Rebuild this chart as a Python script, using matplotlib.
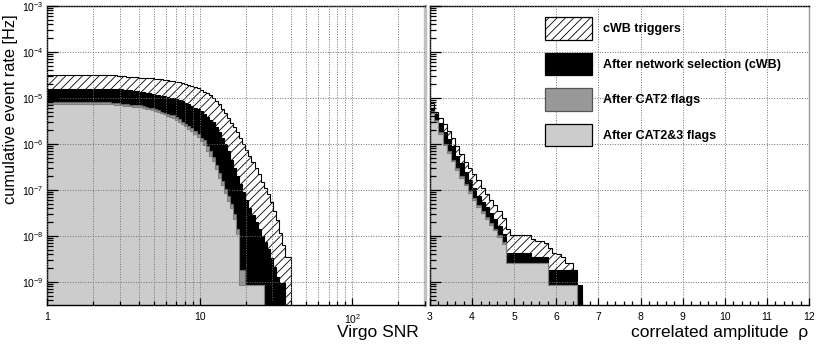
import numpy as np
import matplotlib
matplotlib.use("Agg")
import matplotlib.pyplot as plt
from matplotlib.patches import Patch
from matplotlib.ticker import FixedLocator, FuncFormatter, MultipleLocator, LogLocator, NullFormatter

plt.rcParams['font.family'] = ['Liberation Sans', 'DejaVu Sans']
plt.rcParams['hatch.linewidth'] = 0.6
plt.rcParams['mathtext.default'] = 'regular'

# ---------------- data ----------------
# left panel: log-spaced SNR bins, 1 .. 10^1.6 (50 bins per decade)
snr_edges = np.logspace(0, 1.6, 81)

snr_cwb = ([3.09e-5] * 23 +
           [3.02e-5, 3.02e-5, 2.95e-5, 2.92e-5, 2.88e-5, 2.85e-5, 2.82e-5, 2.79e-5, 2.75e-5, 2.72e-5,
            2.69e-5, 2.66e-5, 2.63e-5, 2.60e-5, 2.57e-5, 2.51e-5, 2.45e-5, 2.40e-5, 2.32e-5, 2.26e-5,
            2.19e-5, 2.11e-5, 2.00e-5, 1.91e-5, 1.80e-5, 1.70e-5, 1.62e-5, 1.51e-5, 1.38e-5, 1.26e-5,
            1.15e-5, 1.02e-5, 8.71e-6, 7.41e-6, 5.89e-6, 4.68e-6, 3.72e-6, 2.88e-6, 2.29e-6, 1.78e-6,
            1.35e-6, 1.02e-6, 7.59e-7, 5.50e-7, 3.98e-7, 2.95e-7, 2.19e-7, 1.48e-7, 1.12e-7, 8.13e-8,
            5.37e-8, 3.55e-8, 2.24e-8, 1.17e-8, 6.31e-9, 3.55e-9, 3.55e-9])

snr_net = ([1.58e-5] * 25 +
           [1.53e-5, 1.50e-5, 1.46e-5, 1.43e-5, 1.39e-5, 1.36e-5, 1.33e-5, 1.30e-5, 1.27e-5, 1.23e-5,
            1.19e-5, 1.15e-5, 1.11e-5, 1.08e-5, 1.04e-5, 1.01e-5, 9.77e-6, 9.46e-6, 9.14e-6, 8.49e-6,
            7.85e-6, 7.24e-6, 6.70e-6, 6.19e-6, 5.71e-6, 5.13e-6, 4.47e-6, 3.89e-6, 3.39e-6, 2.95e-6,
            2.34e-6, 1.86e-6, 1.38e-6, 1.02e-6, 6.92e-7, 4.57e-7, 3.02e-7, 2.00e-7, 1.32e-7, 8.91e-8,
            6.03e-8, 4.07e-8, 2.88e-8, 2.04e-8, 1.41e-8, 1.02e-8, 7.41e-9, 5.13e-9, 3.39e-9, 2.14e-9,
            1.29e-9, 9.33e-10, 9.33e-10, 0, 0])

snr_cat2 = ([8.32e-6] * 20 +
            [8.15e-6, 7.98e-6, 7.82e-6, 7.66e-6, 7.53e-6, 7.43e-6, 7.31e-6, 7.21e-6, 7.11e-6, 7.01e-6,
             6.92e-6, 6.67e-6, 6.43e-6, 6.19e-6, 5.97e-6, 5.68e-6, 5.37e-6, 5.07e-6, 4.80e-6, 4.53e-6,
             4.29e-6, 4.22e-6, 3.80e-6, 3.42e-6, 3.08e-6, 2.77e-6, 2.49e-6, 2.19e-6, 1.88e-6, 1.63e-6,
             1.35e-6, 1.20e-6, 8.91e-7, 6.92e-7, 5.25e-7, 3.55e-7, 2.34e-7, 1.58e-7, 1.07e-7, 7.41e-8,
             5.01e-8, 3.02e-8, 1.41e-8, 1.82e-9, 1.82e-9] +
            [8.51e-10] * 6 + [0] * 9)

snr_cat23 = ([7.59e-6] * 20 +
             [7.43e-6, 7.28e-6, 7.13e-6, 6.98e-6, 6.87e-6, 6.78e-6, 6.67e-6, 6.58e-6, 6.49e-6, 6.40e-6,
              6.31e-6, 6.08e-6, 5.86e-6, 5.65e-6, 5.45e-6, 5.18e-6, 4.90e-6, 4.62e-6, 4.38e-6, 4.13e-6,
              3.91e-6, 3.67e-6, 3.31e-6, 2.98e-6, 2.68e-6, 2.41e-6, 2.17e-6, 1.91e-6, 1.64e-6, 1.42e-6,
              1.17e-6, 9.55e-7, 7.08e-7, 5.50e-7, 4.17e-7, 2.82e-7, 1.86e-7, 1.26e-7, 8.51e-8, 5.89e-8,
              3.98e-8, 2.40e-8, 1.12e-8] +
             [8.51e-10] * 8 + [0] * 9)

# right panel: correlated amplitude bins of 0.1, 3.0 .. 7.0
rho_edges = np.round(np.arange(3.0, 7.01, 0.1), 2)

rho_cwb = [7.94e-6, 5.01e-6, 3.72e-6, 2.69e-6, 1.91e-6, 1.32e-6, 8.91e-7, 6.03e-7, 4.07e-7, 2.95e-7,
           2.19e-7, 1.62e-7, 1.12e-7, 8.13e-8, 6.17e-8, 4.68e-8, 3.55e-8, 2.51e-8, 1.41e-8, 1.05e-8,
           1.05e-8, 1.05e-8, 1.05e-8, 1.05e-8, 8.71e-9, 7.94e-9, 7.94e-9, 7.08e-9, 5.37e-9, 4.37e-9,
           3.98e-9, 3.55e-9, 2.63e-9, 2.63e-9, 0, 0, 0, 0, 0, 0]

rho_net = ([6.03e-6, 4.47e-6, 2.82e-6, 1.78e-6, 1.26e-6, 8.91e-7, 5.62e-7, 3.80e-7, 2.51e-7, 1.66e-7,
            1.12e-7, 7.59e-8, 5.62e-8, 4.17e-8, 3.16e-8, 2.40e-8, 1.66e-8, 1.12e-8] +
           [4.37e-9] * 6 + [3.55e-9] * 4 + [1.78e-9] * 7 + [8.51e-10] + [0] * 4)

rho_cat2 = ([5.25e-6, 3.31e-6, 1.82e-6, 1.02e-6, 6.92e-7, 4.57e-7, 3.02e-7, 2.04e-7, 1.38e-7, 9.55e-8,
             6.76e-8, 4.79e-8, 3.47e-8, 2.57e-8, 1.91e-8, 1.45e-8, 1.05e-8, 7.41e-9] +
            [2.63e-9] * 10 + [8.51e-10] * 7 + [0] * 5)

rho_cat23 = ([4.79e-6, 3.02e-6, 1.66e-6, 9.33e-7, 6.31e-7, 4.17e-7, 2.75e-7, 1.86e-7, 1.26e-7, 8.71e-8,
              6.17e-8, 4.37e-8, 3.16e-8, 2.34e-8, 1.74e-8, 1.32e-8, 9.55e-9, 6.76e-9] +
             [2.63e-9] * 10 + [8.51e-10] * 7 + [0] * 5)

labels = ["cWB triggers", "After network selection (cWB)", "After CAT2 flags", "After CAT2&3 flags"]

# ---------------- style ----------------
LIGHT = '#cccccc'
DARK = '#999999'
FLOOR = 1e-12
YLIM = (10 ** -9.5, 1e-3)

fig = plt.figure(figsize=(8.18, 3.45), dpi=100)
W, H = 818.0, 345.0
ax1 = fig.add_axes([47 / W, 40 / H, 378 / W, 299 / H])
ax2 = fig.add_axes([430 / W, 40 / H, 379 / W, 299 / H])


def draw(ax, edges, cwb, net, cat2, cat23):
    def v(a):
        a = np.asarray(a, dtype=float)
        return np.where(a > 0, a, FLOOR)
    ax.stairs(v(cwb), edges, baseline=FLOOR, fill=True, facecolor='white',
              edgecolor='black', hatch='////', linewidth=0.8, zorder=1)
    ax.stairs(v(net), edges, baseline=FLOOR, fill=True, facecolor='black',
              edgecolor='black', linewidth=0.8, zorder=1.1)
    ax.stairs(v(cat2), edges, baseline=FLOOR, fill=True, facecolor=DARK,
              edgecolor='#666666', linewidth=0.8, zorder=1.2)
    ax.stairs(v(cat23), edges, baseline=FLOOR, fill=True, facecolor=LIGHT,
              edgecolor='#808080', linewidth=0.8, zorder=1.3)


draw(ax1, snr_edges, snr_cwb, snr_net, snr_cat2, snr_cat23)
draw(ax2, rho_edges, rho_cwb, rho_net, rho_cat2, rho_cat23)

grid_kw = dict(color='#707070', linestyle=(0, (1, 1.6)), linewidth=0.7)

for ax in (ax1, ax2):
    ax.set_yscale('log')
    ax.set_ylim(*YLIM)
    ax.yaxis.set_major_locator(FixedLocator([1e-9, 1e-8, 1e-7, 1e-6, 1e-5, 1e-4, 1e-3]))
    ax.yaxis.set_minor_locator(LogLocator(base=10, subs=np.arange(2, 10), numticks=20))
    ax.yaxis.set_minor_formatter(NullFormatter())
    ax.tick_params(axis='y', which='major', direction='in', length=8, width=0.9, left=True, right=False)
    ax.tick_params(axis='y', which='minor', direction='in', length=4.3, width=0.9, left=True, right=False)
    ax.tick_params(axis='x', which='major', direction='in', length=5, width=0.9, top=False, labelsize=7.5, pad=5)
    ax.tick_params(axis='x', which='minor', direction='in', length=2.6, width=0.9, top=False)
    ax.set_axisbelow(False)
    for s in ('left', 'top', 'bottom'):
        ax.spines[s].set_linewidth(1.0)
        ax.spines[s].set_color('black')

# left panel
ax1.set_xscale('log')
ax1.set_xlim(1, 300)
ax1.xaxis.set_major_locator(FixedLocator([1, 10, 100]))
ax1.xaxis.set_major_formatter(FuncFormatter(lambda x, p: {1: '1', 10: '10', 100: r'$10^{2}$'}.get(int(round(x)), '')))
ax1.xaxis.set_minor_locator(LogLocator(base=10, subs=np.arange(2, 10), numticks=20))
ax1.xaxis.set_minor_formatter(NullFormatter())
ax1.yaxis.set_major_formatter(FuncFormatter(lambda y, p: r'$10^{%d}$' % int(round(np.log10(y)))))
ax1.tick_params(axis='y', which='major', labelsize=7.5, pad=2.5)
ax1.grid(True, which='major', axis='y', **grid_kw)
ax1.grid(True, which='both', axis='x', **grid_kw)
ax1.spines['right'].set_color('#c0c0c0')
ax1.spines['right'].set_linewidth(2.5)

# right panel
ax2.set_xlim(3, 12)
ax2.xaxis.set_major_locator(MultipleLocator(1))
ax2.xaxis.set_minor_locator(MultipleLocator(0.2))
ax2.tick_params(axis='y', which='both', labelleft=False)
ax2.grid(True, which='major', axis='both', **grid_kw)
ax2.spines['right'].set_color('#999999')
ax2.spines['right'].set_linewidth(1.0)

# axis labels
fig.text(11 / W, 1 - 14 / H, 'cumulative event rate [Hz]', rotation=90, ha='center', va='top', fontsize=11.8)
fig.text(419 / W, 1 - 332 / H, 'Virgo SNR', ha='right', va='center', fontsize=12.5)
fig.text(808 / W, 1 - 332 / H, 'correlated amplitude  \u03c1', ha='right', va='center', fontsize=12.5)

# legend
handles = [Patch(facecolor='white', edgecolor='black', hatch='////', linewidth=0.9),
           Patch(facecolor='black', edgecolor='black', linewidth=0.9),
           Patch(facecolor=DARK, edgecolor='#555555', linewidth=0.9),
           Patch(facecolor=LIGHT, edgecolor='black', linewidth=0.9)]
fs = 9.0
fpx = fs * 100 / 72.0
leg = ax2.legend(handles, labels, loc='upper left',
                 bbox_to_anchor=((545 - 430) / 379.0, (305 - 17) / 299.0),
                 frameon=False, borderpad=0, borderaxespad=0,
                 handlelength=47 / fpx, handleheight=30 / fpx,
                 labelspacing=13 / fpx, handletextpad=11 / fpx,
                 prop={'size': fs, 'weight': 'bold'})
leg.set_zorder(5)

fig.savefig('out.png', dpi=100)
